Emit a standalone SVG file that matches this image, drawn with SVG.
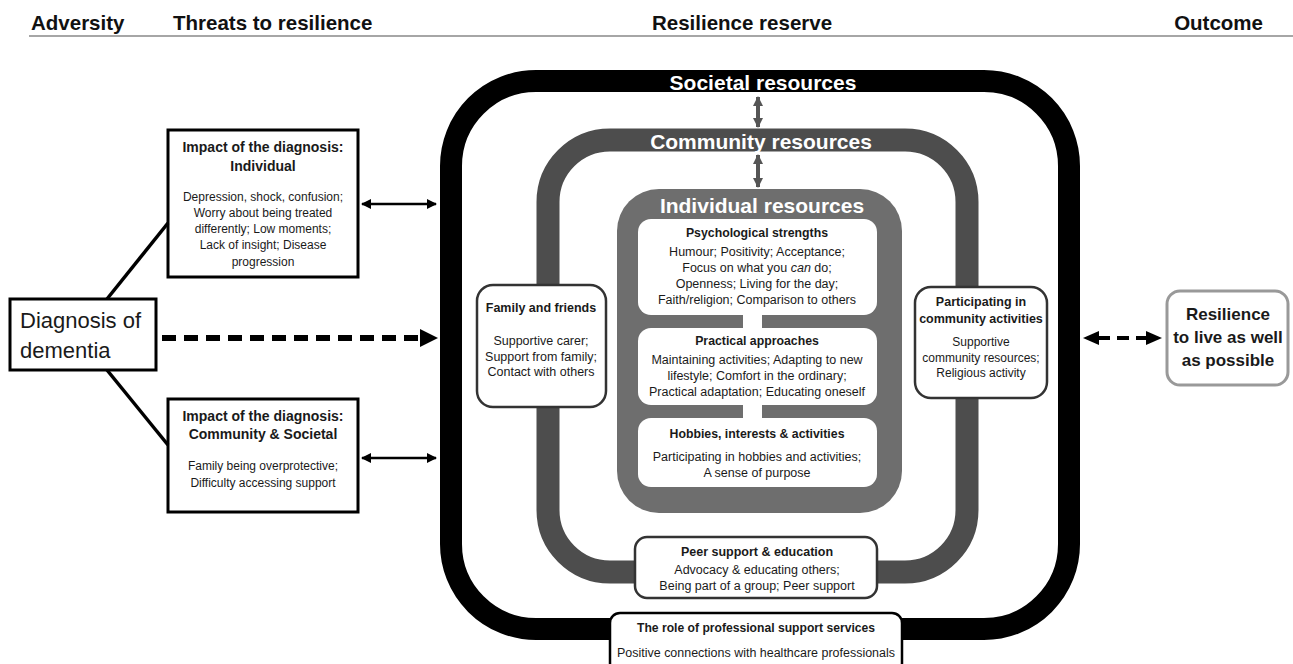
<svg xmlns="http://www.w3.org/2000/svg" width="1293" height="664" viewBox="0 0 1293 664">
<defs>
<style>
text{font-family:"Liberation Sans",Arial,sans-serif;fill:#1a1a1a;text-anchor:middle}
.hd{font-size:20.5px;font-weight:bold;text-anchor:start;fill:#111}
.b{font-weight:bold}
.t13{font-size:12.3px}
.t12{font-size:12.5px}
.t12s{font-size:12px}
.wt{fill:#fff;font-weight:bold;font-size:21px}
.wbox{fill:#fff;stroke:#333;stroke-width:2.5}
.kbox{fill:#fff;stroke:#000;stroke-width:3}
</style>
<marker id="ah" viewBox="0 0 10 10" refX="9" refY="5" markerWidth="4" markerHeight="4" orient="auto-start-reverse"><path d="M0,0 L10,5 L0,10 z" fill="#000"/></marker>
<marker id="ag" viewBox="0 0 10 10" refX="9" refY="5" markerWidth="3" markerHeight="2.5" orient="auto-start-reverse"><path d="M0,0 L10,5 L0,10 z" fill="#555"/></marker>
</defs>
<rect width="1293" height="664" fill="#fff"/>

<g id="headers">
<line x1="29" y1="36" x2="1293" y2="36" stroke="#a6a6a6" stroke-width="2"/>
<text class="hd" x="31" y="30">Adversity</text>
<text class="hd" x="173" y="30">Threats to resilience</text>
<text class="hd" x="652" y="30">Resilience reserve</text>
<text class="hd" x="1263" y="30" style="text-anchor:end">Outcome</text>
</g>

<g id="societal">
<rect x="451" y="81" width="618" height="548" rx="85" fill="none" stroke="#000" stroke-width="22"/>
<text class="wt" x="763" y="90" font-size="20">Societal resources</text>
</g>

<g id="community">
<rect x="548" y="140" width="419" height="432" rx="62" fill="none" stroke="#4d4d4d" stroke-width="23"/>
<text class="wt" x="761" y="149">Community resources</text>
</g>

<g id="individual">
<rect x="617" y="189" width="285" height="324" rx="42" fill="#6e6e6e"/>
<text class="wt" x="762" y="213">Individual resources</text>
<rect x="743" y="310" width="19" height="115" fill="#fff"/>
</g>

<g id="psych">
<rect x="638" y="219" width="239" height="96" rx="13" fill="#fff"/>
<text class="b t13" x="757" y="237">Psychological strengths</text>
<text class="t12" x="757" y="256">Humour;  Positivity; Acceptance;</text>
<text class="t12" x="757" y="272">Focus on what you <tspan font-style="italic">can</tspan> do;</text>
<text class="t12" x="757" y="288">Openness; Living for the  day;</text>
<text class="t12" x="757" y="304">Faith/religion; Comparison to others</text>
</g>

<g id="practical">
<rect x="638" y="328" width="239" height="77" rx="13" fill="#fff"/>
<text class="b t13" x="757" y="345">Practical approaches</text>
<text class="t12" x="757" y="364">Maintaining activities; Adapting to new</text>
<text class="t12" x="757" y="380">lifestyle; Comfort in the  ordinary;</text>
<text class="t12" x="757" y="396">Practical adaptation; Educating oneself</text>
</g>

<g id="hobbies">
<rect x="638" y="418" width="239" height="69" rx="13" fill="#fff"/>
<text class="b t13" x="757" y="438">Hobbies, interests &amp; activities</text>
<text class="t12" x="757" y="461">Participating in hobbies and activities;</text>
<text class="t12" x="757" y="477">A sense of purpose</text>
</g>

<g id="family">
<rect class="wbox" x="477" y="285" width="129" height="122" rx="16"/>
<text class="b t12" x="541" y="312">Family and friends</text>
<text class="t12" x="541" y="345">Supportive carer;</text>
<text class="t12" x="541" y="361">Support from family;</text>
<text class="t12" x="541" y="376">Contact with others</text>
</g>

<g id="participating">
<rect class="wbox" x="915" y="287" width="132" height="111" rx="16"/>
<text class="b t12" x="981" y="306">Participating in</text>
<text class="b t12" x="981" y="323">community activities</text>
<text class="t12s" x="981" y="346">Supportive</text>
<text class="t12s" x="981" y="362">community resources;</text>
<text class="t12s" x="981" y="377">Religious activity</text>
</g>

<g id="peer">
<rect class="wbox" x="635" y="537" width="242" height="61" rx="12"/>
<text class="b t12" x="757" y="556">Peer support &amp; education</text>
<text class="t12" x="757" y="574">Advocacy &amp; educating others;</text>
<text class="t12" x="757" y="590">Being part of a group;  Peer support</text>
</g>

<g id="professional">
<rect x="610" y="613" width="292" height="60" rx="10" fill="#fff" stroke="#000" stroke-width="2.5"/>
<text class="b" font-size="12.5" x="756" y="632" textLength="238" lengthAdjust="spacingAndGlyphs">The role of professional support services</text>
<text font-size="12" x="756" y="657" textLength="278" lengthAdjust="spacingAndGlyphs">Positive connections with healthcare professionals</text>
</g>

<g id="impact-individual">
<rect class="kbox" x="168" y="130" width="190" height="147"/>
<text class="b" font-size="14" x="263" y="152">Impact of the diagnosis:</text>
<text class="b" font-size="14" x="263" y="171">Individual</text>
<text class="t12s" x="263" y="201">Depression, shock, confusion;</text>
<text class="t12s" x="263" y="217">Worry about being treated</text>
<text class="t12s" x="263" y="233">differently; Low  moments;</text>
<text class="t12s" x="263" y="249">Lack of insight; Disease</text>
<text class="t12s" x="263" y="266">progression</text>
</g>

<g id="impact-community">
<rect class="kbox" x="168" y="399" width="190" height="113"/>
<text class="b" font-size="14" x="263" y="421">Impact of the diagnosis:</text>
<text class="b" font-size="14" x="263" y="439">Community &amp; Societal</text>
<text class="t12s" x="263" y="470">Family being overprotective;</text>
<text class="t12s" x="263" y="487">Difficulty accessing support</text>
</g>

<g id="diagnosis">
<rect class="kbox" x="10" y="299" width="146" height="71"/>
<text font-size="22" x="20" y="328" style="text-anchor:start">Diagnosis of</text>
<text font-size="22" x="20" y="358" style="text-anchor:start">dementia</text>
</g>

<g id="outcome">
<rect x="1167" y="291" width="121" height="94" rx="13" fill="#fff" stroke="#999" stroke-width="3"/>
<text class="b" font-size="17" x="1228" y="320">Resilience</text>
<text class="b" font-size="17" x="1228" y="343">to live as well</text>
<text class="b" font-size="17" x="1228" y="366">as possible</text>
</g>

<g id="connectors">
<line x1="107" y1="299" x2="168" y2="223" stroke="#000" stroke-width="3.5"/>
<line x1="107" y1="370" x2="168" y2="445" stroke="#000" stroke-width="3.5"/>
<line x1="362" y1="204" x2="436" y2="204" stroke="#000" stroke-width="2.5" marker-start="url(#ah)" marker-end="url(#ah)"/>
<line x1="362" y1="458" x2="436" y2="458" stroke="#000" stroke-width="2.5" marker-start="url(#ah)" marker-end="url(#ah)"/>
<line x1="162" y1="338" x2="420" y2="338" stroke="#000" stroke-width="6" stroke-dasharray="14 8"/>
<polygon points="420,329 438,338 420,347" fill="#000"/>
<line x1="1098" y1="338" x2="1146" y2="338" stroke="#000" stroke-width="4" stroke-dasharray="12 7"/>
<polygon points="1099,331 1083,338 1099,345" fill="#000"/>
<polygon points="1146,331 1162,338 1146,345" fill="#000"/>
<line x1="758" y1="97" x2="758" y2="127" stroke="#555" stroke-width="4" marker-start="url(#ag)" marker-end="url(#ag)"/>
<line x1="758" y1="155" x2="758" y2="187" stroke="#555" stroke-width="4" marker-start="url(#ag)" marker-end="url(#ag)"/>
</g>
</svg>
